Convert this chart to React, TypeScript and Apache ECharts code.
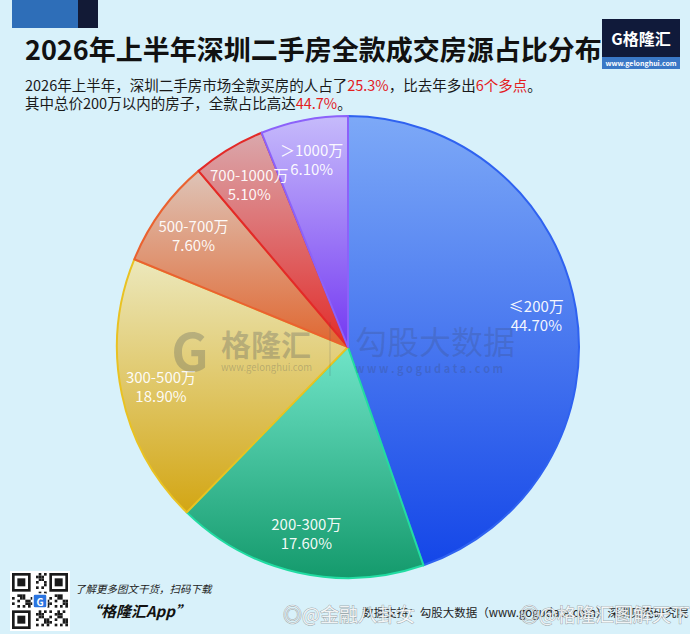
import React, { useEffect, useRef } from "react";
import * as echarts from "echarts";

const categories = ["≤200万", "200-300万", "300-500万", "500-700万", "700-1000万", "＞1000万"];
const shares = [44.7, 17.6, 18.9, 7.6, 5.1, 6.1];
const topColors = ["#7da9f7", "#70e4c8", "#ece8bc", "#dec4b8", "#daa8ac", "#c6bbfb"];
const bottomColors = ["#1446e8", "#149a6c", "#d3a614", "#e0662f", "#e22c2a", "#7438f2"];
const borderColors = ["#2f62f0", "#22dca2", "#e9c222", "#ea6230", "#e32a28", "#8c62fa"];

const titleText = "2026年上半年深圳二手房全款成交房源占比分布";
const sourceText = "数据支持：勾股大数据（www.gogudata.com）深圳贝壳研究院";

const FONT = '"Noto Sans CJK SC", "Noto Sans", sans-serif';

function qrModules(): any[] {
  const out: any[] = [];
  const n = 21;
  const x0 = 12;
  const y0 = 573;
  const s = 56 / n;
  const inFinder = (i: number, j: number) =>
    (i < 8 && j < 8) || (i >= n - 8 && j < 8) || (i < 8 && j >= n - 8);
  for (let i = 0; i < n; i++) {
    for (let j = 0; j < n; j++) {
      if (inFinder(i, j)) continue;
      const h = (i * 73 + j * 151 + i * j * 17) % 7;
      if (h < 3) {
        out.push({ type: "rect", shape: { x: x0 + i * s, y: y0 + j * s, width: s, height: s }, style: { fill: "#1a1a1a" }, silent: true });
      }
    }
  }
  const finders = [[0, 0], [n - 7, 0], [0, n - 7]];
  finders.forEach(([i, j]) => {
    out.push({ type: "rect", shape: { x: x0 + i * s, y: y0 + j * s, width: 7 * s, height: 7 * s }, style: { fill: "#1a1a1a" }, silent: true });
    out.push({ type: "rect", shape: { x: x0 + (i + 1) * s, y: y0 + (j + 1) * s, width: 5 * s, height: 5 * s }, style: { fill: "#ffffff" }, silent: true });
    out.push({ type: "rect", shape: { x: x0 + (i + 2) * s, y: y0 + (j + 2) * s, width: 3 * s, height: 3 * s }, style: { fill: "#1a1a1a" }, silent: true });
  });
  return out;
}

export default function App() {
  const ref = useRef<HTMLDivElement>(null);
  useEffect(() => {
    document.body.style.margin = "0";
    const chart = echarts.init(ref.current!, null, { renderer: "svg" });
    const data = categories.map((name, i) => ({
      name,
      value: shares[i],
      itemStyle: {
        color: new echarts.graphic.LinearGradient(0, 0, 0, 1, [
          { offset: 0, color: topColors[i] },
          { offset: 1, color: bottomColors[i] },
        ]),
        borderColor: borderColors[i],
        borderWidth: 2,
      },
    }));
    const labelData = categories.map((name, i) => ({ name, value: shares[i] }));

    const option: any = {
      animation: false,
      backgroundColor: "#d8f1fa",
      series: [
        {
          type: "pie",
          center: [348, 347],
          radius: [0, 231],
          startAngle: 90,
          clockwise: true,
          data,
          label: { show: false },
          labelLine: { show: false },
          emphasis: { disabled: true },
          silent: true,
          z: 2,
        },
        {
          type: "pie",
          center: [348, 347],
          radius: [145, 231],
          startAngle: 90,
          clockwise: true,
          avoidLabelOverlap: false,
          labelLayout: { hideOverlap: false },
          data: labelData,
          itemStyle: { color: "rgba(0,0,0,0)", borderWidth: 0 },
          label: {
            show: true,
            position: "inside",
            formatter: (p: any) => `${p.name}\n${p.value.toFixed(2)}%`,
            color: "rgba(255,255,255,0.95)",
            fontSize: 15,
            lineHeight: 19,
            fontFamily: FONT,
          },
          labelLine: { show: false },
          emphasis: { disabled: true },
          silent: true,
          z: 4,
        },
      ],
      graphic: [
        { type: "rect", shape: { x: 12, y: 0, width: 66, height: 28 }, style: { fill: "#2e6eb8" }, silent: true },
        { type: "rect", shape: { x: 78, y: 0, width: 20, height: 28 }, style: { fill: "#121a36" }, silent: true },
        {
          type: "text", x: 25, y: 48,
          style: { text: titleText, font: `bold 27px ${FONT}`, fill: "#111111", verticalAlign: "middle", align: "left" },
          silent: true,
        },
        {
          type: "text", x: 25, y: 84,
          style: {
            text: "{a|2026年上半年，深圳二手房市场全款买房的人占了}{r|25.3%}{a|，比去年多出}{r|6个多点}{a|。}",
            verticalAlign: "middle", align: "left",
            rich: {
              a: { fontSize: 14.5, fontFamily: FONT, fill: "#1a1a1a", color: "#1a1a1a" },
              r: { fontSize: 14.5, fontFamily: FONT, fill: "#e3201e", color: "#e3201e" },
            },
          },
          silent: true,
        },
        {
          type: "text", x: 25, y: 102,
          style: {
            text: "{a|其中总价200万以内的房子，全款占比高达}{r|44.7%}{a|。}",
            verticalAlign: "middle", align: "left",
            rich: {
              a: { fontSize: 14.5, fontFamily: FONT, fill: "#1a1a1a", color: "#1a1a1a" },
              r: { fontSize: 14.5, fontFamily: FONT, fill: "#e3201e", color: "#e3201e" },
            },
          },
          silent: true,
        },
        // top-right logo
        { type: "rect", shape: { x: 602, y: 19, width: 78, height: 50 }, style: { fill: "#101a3a" }, silent: true },
        { type: "rect", shape: { x: 602, y: 57, width: 78, height: 12 }, style: { fill: "#3a78c6" }, silent: true },
        {
          type: "text", x: 641, y: 38,
          style: { text: "G格隆汇", font: `bold 16px ${FONT}`, fill: "#ffffff", align: "center", verticalAlign: "middle" },
          silent: true,
        },
        {
          type: "text", x: 641, y: 63,
          style: { text: "www.gelonghui.com", font: `bold 7px ${FONT}`, fill: "#ffffff", align: "center", verticalAlign: "middle" },
          silent: true,
        },
        // center watermarks
        {
          type: "text", x: 190, y: 348, z: 10,
          style: { text: "G", font: `bold 52px ${FONT}`, fill: "rgba(70,78,90,0.28)", align: "center", verticalAlign: "middle" },
          silent: true,
        },
        {
          type: "text", x: 221, y: 343, z: 10,
          style: { text: "格隆汇", font: `bold 30px ${FONT}`, fill: "rgba(70,78,90,0.28)", align: "left", verticalAlign: "middle" },
          silent: true,
        },
        {
          type: "text", x: 221, y: 367, z: 10,
          style: { text: "www.gelonghui.com", font: `9.5px ${FONT}`, fill: "rgba(70,78,90,0.28)", align: "left", verticalAlign: "middle" },
          silent: true,
        },
        { type: "line", z: 10, shape: { x1: 330, y1: 322, x2: 330, y2: 376 }, style: { stroke: "rgba(70,78,90,0.22)", lineWidth: 1 }, silent: true },
        {
          type: "text", x: 355, y: 340, z: 10,
          style: { text: "勾股大数据", font: `32px ${FONT}`, fill: "rgba(60,70,100,0.22)", align: "left", verticalAlign: "middle" },
          silent: true,
        },
        {
          type: "text", x: 355, y: 368, z: 10,
          style: { text: "w w w . g o g u d a t a . c o m", font: `bold 11px ${FONT}`, fill: "rgba(60,70,100,0.25)", align: "left", verticalAlign: "middle" },
          silent: true,
        },
        // footer QR
        { type: "rect", shape: { x: 10, y: 571, width: 60, height: 60 }, style: { fill: "#ffffff" }, silent: true },
        ...qrModules(),
        { type: "rect", shape: { x: 33, y: 594, width: 14, height: 14, r: 2 }, style: { fill: "#2a74e0", stroke: "#ffffff", lineWidth: 1.5 }, silent: true },
        {
          type: "text", x: 40, y: 601,
          style: { text: "G", font: `bold 10px ${FONT}`, fill: "#ffffff", align: "center", verticalAlign: "middle" },
          silent: true,
        },
        {
          type: "text", x: 75, y: 588,
          style: { text: "了解更多图文干货，扫码下载", font: `italic 10.5px ${FONT}`, fill: "#222222", align: "left", verticalAlign: "middle" },
          silent: true,
        },
        {
          type: "text", x: 86, y: 610,
          style: { text: "“格隆汇App”", font: `italic bold 15px ${FONT}`, fill: "#111111", align: "left", verticalAlign: "middle" },
          silent: true,
        },
        {
          type: "text", x: 688, y: 612,
          style: { text: sourceText, font: `11.5px ${FONT}`, fill: "#222222", align: "right", verticalAlign: "middle" },
          silent: true,
        },
        // weibo watermarks
        {
          type: "text", x: 283, y: 613, z: 12,
          style: { text: "◎@金融八卦女", font: `19px ${FONT}`, fill: "rgba(255,255,255,0.85)", stroke: "rgba(110,110,110,0.55)", lineWidth: 1, align: "left", verticalAlign: "middle" },
          silent: true,
        },
        {
          type: "text", x: 520, y: 613, z: 12,
          style: { text: "◎@格隆汇图解天下", font: `19px ${FONT}`, fill: "rgba(255,255,255,0.85)", stroke: "rgba(110,110,110,0.55)", lineWidth: 1, align: "left", verticalAlign: "middle" },
          silent: true,
        },
      ],
    };
    chart.setOption(option);
    return () => chart.dispose();
  }, []);
  return <div ref={ref} style={{ width: 690, height: 634 }} />;
}
